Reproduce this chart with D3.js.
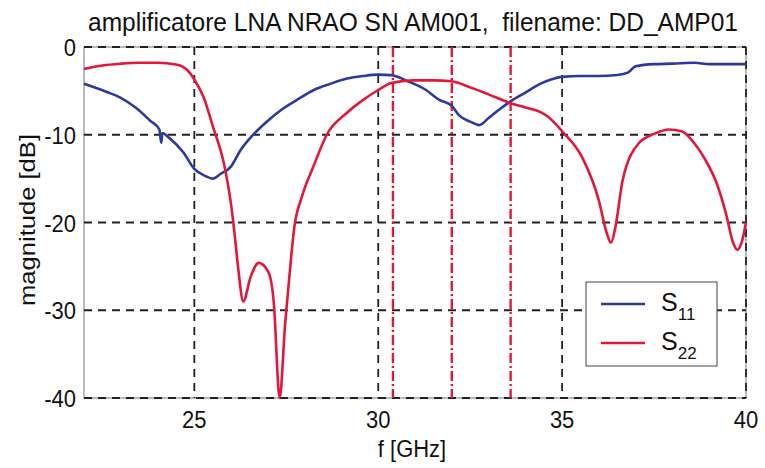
<!DOCTYPE html>
<html>
<head>
<meta charset="utf-8">
<script src="https://cdn.jsdelivr.net/npm/d3@7"></script>
<style>
  body { margin: 0; background: #fff; }
  svg { display: block; font-family: "Liberation Sans", Arial, sans-serif; }
</style>
</head>
<body>
<div id="chart"></div>
<script>
// S11 (blue) - [f GHz, dB]
const s11 = [
  [22.0, -4.2], [22.6, -5.1], [23.0, -5.8], [23.4, -6.9], [23.8, -8.4], [24.05, -9.4],
  [24.1, -10.9], [24.13, -9.8], [24.3, -10.3], [24.7, -12.0], [25.0, -13.9], [25.3, -14.7],
  [25.5, -15.0], [25.7, -14.5], [26.0, -13.6], [26.25, -11.8], [26.6, -10.0], [27.0, -8.4],
  [27.35, -7.2], [27.8, -6.0], [28.25, -4.9], [28.7, -4.2], [29.15, -3.6], [29.6, -3.3],
  [30.0, -3.15], [30.35, -3.2], [30.8, -3.9], [31.3, -4.9], [31.65, -6.0], [32.0, -6.7],
  [32.2, -7.8], [32.5, -8.5], [32.75, -8.9], [33.0, -8.1], [33.3, -7.1], [33.6, -6.2],
  [34.0, -5.2], [34.4, -4.2], [34.7, -3.7], [35.0, -3.4], [35.5, -3.3], [36.0, -3.3],
  [36.5, -3.2], [36.8, -2.9], [37.0, -2.2], [37.5, -1.95], [38.0, -1.9], [38.6, -1.8],
  [39.0, -1.95], [39.5, -1.95], [40.0, -1.95]
];

// S22 (red) - [f GHz, dB]
const s22 = [
  [22.0, -2.5], [22.5, -2.1], [23.0, -1.9], [23.5, -1.8], [24.0, -1.8], [24.5, -2.0],
  [24.8, -2.6], [25.0, -3.7], [25.25, -5.7], [25.5, -9.0], [25.8, -13.2], [26.0, -18.0],
  [26.1, -21.5], [26.2, -25.5], [26.33, -29.0], [26.53, -26.2], [26.75, -24.6], [27.02, -25.7],
  [27.16, -29.1], [27.32, -40.0], [27.47, -31.5], [27.56, -27.3], [27.72, -20.5], [27.93, -17.0],
  [28.24, -13.6], [28.6, -10.0], [29.15, -7.5], [29.6, -6.0], [30.0, -4.9], [30.35, -4.1],
  [30.95, -3.8], [31.5, -3.8], [32.0, -3.9], [32.5, -4.6], [33.0, -5.4], [33.6, -6.4],
  [34.0, -6.9], [34.4, -7.4], [34.6, -7.9], [35.0, -9.6], [35.55, -12.6], [36.0, -17.5],
  [36.2, -21.0], [36.33, -22.3], [36.45, -20.5], [36.65, -15.1], [37.1, -10.9], [37.5, -9.9],
  [37.9, -9.4], [38.25, -9.6], [38.6, -11.0], [38.9, -12.9], [39.2, -15.5], [39.45, -18.9],
  [39.65, -22.3], [39.76, -23.1], [39.9, -22.0], [40.0, -20.0]
];

// red marker lines (band limits / centre)
const markers = [30.4, 32.0, 33.6];

const xTicks = [25, 30, 35, 40];
const yTicks = [0, -10, -20, -30, -40];

const series = [
  { name: "S", sub: "11", color: "#2b3a9e", values: s11 },
  { name: "S", sub: "22", color: "#e3173a", values: s22 }
];

const drawChart = () => {
  const root = d3.select("#chart");
  root.selectAll("*").remove();

  const W = 765, H = 468;
  const M = { top: 47, right: 19, bottom: 70, left: 84 };

  const x = d3.scaleLinear().domain([22, 40]).range([M.left, W - M.right]);
  const y = d3.scaleLinear().domain([-40, 0]).range([H - M.bottom, M.top]);

  const svg = root.append("svg")
    .attr("width", W)
    .attr("height", H)
    .attr("viewBox", `0 0 ${W} ${H}`);

  // Axes box
  svg.append("rect")
    .attr("x", x(22)).attr("y", y(0))
    .attr("width", x(40) - x(22)).attr("height", y(-40) - y(0))
    .attr("fill", "none")
    .attr("stroke", "#777")
    .attr("stroke-width", 1);

  // Grid
  const grid = svg.append("g")
    .attr("stroke", "#222")
    .attr("stroke-width", 1.8)
    .attr("stroke-dasharray", "8,6");

  grid.selectAll("line.gx")
    .data(xTicks)
    .join("line")
    .attr("class", "gx")
    .attr("x1", d => x(d)).attr("x2", d => x(d))
    .attr("y1", y(0)).attr("y2", y(-40));

  grid.selectAll("line.gy")
    .data(yTicks)
    .join("line")
    .attr("class", "gy")
    .attr("x1", x(22)).attr("x2", x(40))
    .attr("y1", d => y(d)).attr("y2", d => y(d));

  // Marker lines (dash-dot)
  svg.append("g")
    .selectAll("line")
    .data(markers)
    .join("line")
    .attr("x1", d => x(d)).attr("x2", d => x(d))
    .attr("y1", y(0)).attr("y2", y(-40))
    .attr("stroke", "#e3173a")
    .attr("stroke-width", 2.4)
    .attr("stroke-dasharray", "10,3,2,3");

  // Curves
  const line = d3.line()
    .x(d => x(d[0]))
    .y(d => y(d[1]))
    .curve(d3.curveMonotoneX);

  svg.append("g")
    .selectAll("path")
    .data(series)
    .join("path")
    .attr("d", d => line(d.values))
    .attr("fill", "none")
    .attr("stroke", d => d.color)
    .attr("stroke-width", 2.6)
    .attr("stroke-linejoin", "round");

  // Tick labels (glyphs a bit taller than wide in the scan)
  svg.append("g")
    .selectAll("text")
    .data(xTicks)
    .join("text")
    .attr("transform", d => `translate(${x(d)}, 428) scale(1, 1.12)`)
    .attr("text-anchor", "middle")
    .attr("font-size", 22)
    .attr("fill", "#111")
    .text(d => d);

  svg.append("g")
    .selectAll("text")
    .data(yTicks)
    .join("text")
    .attr("transform", d => `translate(76, ${y(d) + 9}) scale(1, 1.12)`)
    .attr("text-anchor", "end")
    .attr("font-size", 22)
    .attr("fill", "#111")
    .text(d => d);

  // Axis labels and title
  svg.append("text")
    .attr("transform", "translate(412, 457) scale(1, 1.08)")
    .attr("text-anchor", "middle")
    .attr("font-size", 22)
    .attr("fill", "#111")
    .text("f [GHz]");

  svg.append("text")
    .attr("transform", "translate(35, 220) rotate(-90)")
    .attr("text-anchor", "middle")
    .attr("font-size", 22)
    .attr("textLength", 172)
    .attr("lengthAdjust", "spacingAndGlyphs")
    .attr("fill", "#111")
    .text("magnitude [dB]");

  svg.append("text")
    .attr("transform", "translate(88, 31) scale(1, 1.06)")
    .attr("font-size", 24)
    .attr("textLength", 650)
    .attr("lengthAdjust", "spacingAndGlyphs")
    .attr("fill", "#111")
    .attr("xml:space", "preserve")
    .text("amplificatore LNA NRAO SN AM001,  filename: DD_AMP01");

  // Legend
  const lg = svg.append("g");
  lg.append("rect")
    .attr("x", 586).attr("y", 282)
    .attr("width", 131).attr("height", 84)
    .attr("fill", "#fff")
    .attr("stroke", "#444")
    .attr("stroke-width", 1);

  const items = lg.selectAll("g.item")
    .data(series)
    .join("g")
    .attr("class", "item")
    .attr("transform", (d, i) => `translate(0, ${304 + i * 39})`);

  items.append("line")
    .attr("x1", 601).attr("x2", 645)
    .attr("stroke", d => d.color)
    .attr("stroke-width", 2.6);

  const label = items.append("text")
    .attr("x", 661)
    .attr("y", 7)
    .attr("font-size", 25)
    .attr("fill", "#111");
  label.append("tspan").text(d => d.name);
  label.append("tspan")
    .attr("dy", 9)
    .attr("font-size", 17)
    .text(d => d.sub);
};

drawChart();
</script>
</body>
</html>
